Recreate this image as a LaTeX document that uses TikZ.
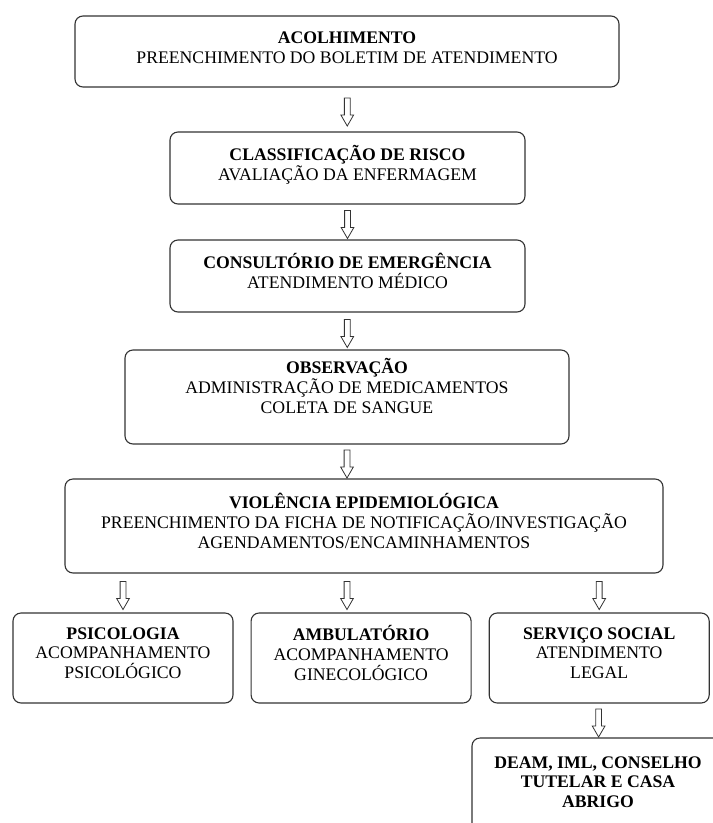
\documentclass[tikz,border=0pt]{standalone}
\usepackage{fontspec}
\setmainfont{Liberation Serif}
\usetikzlibrary{positioning, shapes.arrows}

% extra depth under the last line, pushes the text up a little
\newcommand{\lift}[1]{\rule[-#1]{0pt}{#1}}

\begin{document}
\begin{tikzpicture}[x=1pt, y=-1pt]
    % settings for this picture
    \tikzset{
      node distance=17pt,
      stage/.style={draw=black!80, line width=1.1pt, rounded corners=8pt,
                    align=center, inner sep=0pt,
                    font=\fontsize{17.7}{19.8}\selectfont},
      flow/.style={single arrow, draw=black!80, fill=white, line width=0.8pt,
                   shape border rotate=270, inner sep=2.5pt,
                   minimum height=28pt, single arrow head extend=3.5pt,
                   single arrow tip angle=60},
    }

    \useasboundingbox (0,0) rectangle (713,823);
    \clip (0,0) rectangle (713,823);

    % main column
    \node[stage, minimum width=544pt, minimum height=71pt] at (347,51.5) (acolh)
      {\textbf{ACOLHIMENTO}\\PREENCHIMENTO DO BOLETIM DE ATENDIMENTO\lift{7pt}};
    \node[stage, minimum width=355pt, minimum height=72pt] at (347.5,168) (risco)
      {\textbf{CLASSIFICAÇÃO DE RISCO}\\AVALIAÇÃO DA ENFERMAGEM\lift{10pt}};
    \node[stage, minimum width=355pt, minimum height=72pt] at (347.5,276) (consult)
      {\textbf{CONSULTÓRIO DE EMERGÊNCIA}\\ATENDIMENTO MÉDICO\lift{10pt}};
    \node[stage, minimum width=444pt, minimum height=94pt] at (347,397) (obs)
      {\textbf{OBSERVAÇÃO}\\ADMINISTRAÇÃO DE MEDICAMENTOS\\COLETA DE SANGUE\lift{22pt}};
    \node[stage, minimum width=598pt, minimum height=94pt] at (364,526) (viol)
      {\textbf{VIOLÊNCIA EPIDEMIOLÓGICA}\\PREENCHIMENTO DA FICHA DE NOTIFICAÇÃO/INVESTIGAÇÃO\\AGENDAMENTOS/ENCAMINHAMENTOS\lift{10pt}};

    % referrals
    \node[stage, minimum width=220pt, minimum height=90pt] at (123,658) (psi)
      {\textbf{PSICOLOGIA}\\ACOMPANHAMENTO\\PSICOLÓGICO\lift{10pt}};
    \node[stage, minimum width=220pt, minimum height=90pt, right=of psi] (amb)
      {\textbf{AMBULATÓRIO}\\ACOMPANHAMENTO\\GINECOLÓGICO\lift{10pt}};
    \node[stage, minimum width=220pt, minimum height=90pt, right=of amb] (social)
      {\textbf{SERVIÇO SOCIAL}\\ATENDIMENTO\\LEGAL\lift{10pt}};
    \node[stage, minimum width=252pt, minimum height=98pt] at (598,787) (deam)
      {\textbf{DEAM, IML, CONSELHO}\\\textbf{TUTELAR E CASA}\\\textbf{ABRIGO}\lift{10pt}};

    % arrows
    \path (acolh) -- node[flow] {} (risco);
    \path (risco) -- node[flow] {} (consult);
    \path (consult) -- node[flow] {} (obs);
    \path (obs.south) -- node[flow] {} (obs.south |- viol.north);
    \path (viol.south -| psi) -- node[flow] {} (psi);
    \path (viol.south -| obs.south) -- node[flow] {} (amb.north -| obs.south);
    \path (viol.south -| social) -- node[flow] {} (social);
    \path (social) -- node[flow] {} (deam);

\end{tikzpicture}
\end{document}
